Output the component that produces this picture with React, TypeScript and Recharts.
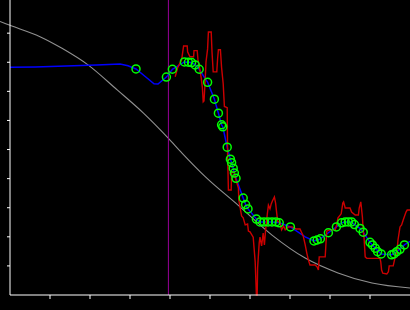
import { ComposedChart, Line, Scatter, XAxis, YAxis, ReferenceLine } from 'recharts';

// axis ticks (no labels in the reference)
const xTicks = [1, 2, 3, 4, 5, 6, 7, 8, 9];
const yTicks = [1, 2, 3, 4, 5, 6, 7, 8, 9];
const markerX = 3.96;

// gray reference curve
const grayX = [-0.25, 0, 0.75, 1.3, 1.95, 2.68, 3.33, 3.95, 4.3, 4.88, 5.7, 6.55, 7.38, 8.2, 9.05, 10];
const grayY = [9.4, 9.27, 8.88, 8.48, 7.91, 7.05, 6.26, 5.4, 4.88, 4.07, 3.09, 2.06, 1.27, 0.76, 0.41, 0.24];

// blue fitted line
const blueX = [
  0, 0.63, 1.4, 2.17, 2.75, 2.95, 3.15, 3.38, 3.6, 3.7, 3.91, 4.06, 4.36, 4.46, 4.54, 4.63, 4.73,
  4.94, 5.11, 5.21, 5.29, 5.32, 5.43, 5.51, 5.54, 5.58, 5.61, 5.65, 5.83, 5.89, 5.95,
  6.16, 6.25, 6.35, 6.55, 6.73, 7.01, 7.38, 7.6, 7.68, 7.76, 7.96,
  8.16, 8.29, 8.38, 8.54, 8.61, 8.75, 8.83, 9.0, 9.13, 9.28, 9.54, 9.67, 9.86, 10,
];
const blueY = [
  7.83, 7.84, 7.87, 7.91, 7.94, 7.88, 7.77, 7.51, 7.26, 7.25, 7.49, 7.76, 8.01, 8.0, 7.99, 7.91, 7.76,
  7.31, 6.73, 6.25, 5.85, 5.78, 5.08, 4.67, 4.55, 4.36, 4.19, 4.01, 3.33, 3.11, 2.96,
  2.61, 2.51, 2.51, 2.51, 2.48, 2.34, 2.0, 1.86, 1.89, 1.93, 2.14,
  2.34, 2.48, 2.51, 2.51, 2.42, 2.29, 2.16, 1.81, 1.61, 1.41, 1.38, 1.49, 1.72, 1.84,
];

// green sample markers
const ringX = [
  3.15, 3.91, 4.06, 4.36, 4.46, 4.54, 4.63, 4.73, 4.94, 5.11, 5.21, 5.29, 5.32, 5.43,
  5.51, 5.54, 5.58, 5.61, 5.65, 5.83, 5.89, 5.95, 6.16, 6.25, 6.35, 6.45, 6.55, 6.65, 6.73, 7.01,
  7.6, 7.68, 7.76, 7.96, 8.16, 8.29, 8.38, 8.46, 8.54, 8.61, 8.75, 8.83,
  9.0, 9.06, 9.13, 9.19, 9.28, 9.54, 9.6, 9.67, 9.75, 9.86,
];
const ringY = [
  7.77, 7.49, 7.76, 8.01, 8.0, 7.99, 7.91, 7.76, 7.31, 6.73, 6.25, 5.85, 5.78, 5.08,
  4.67, 4.55, 4.36, 4.19, 4.01, 3.33, 3.11, 2.96, 2.61, 2.51, 2.51, 2.51, 2.51, 2.51, 2.48, 2.34,
  1.86, 1.89, 1.93, 2.14, 2.34, 2.48, 2.51, 2.51, 2.51, 2.42, 2.29, 2.16,
  1.81, 1.72, 1.61, 1.49, 1.41, 1.38, 1.41, 1.49, 1.57, 1.72,
];

// red raw signal
const redX = [
  4.13, 4.19, 4.29, 4.34, 4.43, 4.44, 4.5, 4.59, 4.6, 4.68,
  4.7, 4.74, 4.78, 4.81, 4.83, 4.85, 4.88, 4.9, 4.94, 4.96,
  5.03, 5.05, 5.08, 5.17, 5.19, 5.21, 5.26, 5.29, 5.33, 5.36,
  5.43, 5.44, 5.46, 5.53, 5.54, 5.6, 5.65, 5.71, 5.72, 5.75,
  5.79, 5.83, 5.88, 5.94, 5.96, 6.0, 6.08, 6.13, 6.16, 6.18,
  6.19, 6.23, 6.25, 6.29, 6.33, 6.36, 6.39, 6.43, 6.46, 6.5,
  6.53, 6.56, 6.61, 6.64, 6.67, 6.69, 6.75, 6.79, 6.84, 6.88,
  6.96, 7.05, 7.15, 7.25, 7.33, 7.38, 7.42, 7.46, 7.5, 7.63,
  7.68, 7.71, 7.73, 7.88, 7.9, 7.92, 8.0, 8.13, 8.16, 8.2,
  8.28, 8.32, 8.34, 8.38, 8.5, 8.54, 8.63, 8.71, 8.73, 8.77,
  8.81, 8.83, 8.85, 8.88, 8.92, 9.25, 9.27, 9.29, 9.32, 9.42,
  9.46, 9.48, 9.58, 9.63, 9.67, 9.7, 9.75, 9.79, 9.83, 9.9,
  9.93, 10,
];
const redY = [
  7.5, 7.81, 8.08, 8.56, 8.56, 8.36, 8.19, 8.19, 8.4, 8.4,
  8.08, 7.81, 7.46, 7.12, 6.64, 6.67, 7.39, 8.01, 8.46, 9.04,
  9.04, 8.36, 7.67, 7.67, 8.12, 8.43, 8.43, 7.81, 7.26, 6.48,
  6.44, 4.81, 3.61, 3.61, 4.23, 4.23, 3.95, 3.68, 3.27, 3.03,
  2.72, 2.65, 2.41, 2.44, 2.2, 2.17, 1.99, 1.13, 0, 0,
  0.93, 1.79, 1.99, 1.69, 2.13, 1.72, 2.24, 2.75, 3.09, 2.96,
  3.13, 3.23, 3.37, 3.16, 2.79, 2.54, 2.48, 2.24, 2.37, 2.24,
  2.34, 2.34, 2.27, 2.27, 2.03, 1.72, 1.44, 1.2, 1.03, 1.03,
  0.96, 0.86, 1.31, 1.31, 1.79, 2.2, 2.24, 2.24, 2.37, 2.65,
  2.79, 3.16, 3.2, 2.99, 2.99, 2.85, 2.75, 2.75, 2.99, 3.2,
  2.68, 2.24, 1.99, 1.31, 1.26, 1.26, 1.13, 0.86, 0.75, 0.72,
  0.8, 1.0, 1.0, 1.31, 1.44, 1.89, 2.34, 2.41, 2.58, 2.85,
  2.92, 2.92,
];

const zip = (xs: number[], ys: number[]) => xs.map((x, i) => ({ x, y: ys[i] }));

const grayData = zip(grayX, grayY);
const blueData = zip(blueX, blueY);
const ringData = zip(ringX, ringY);
const redData = zip(redX, redY);

const W = 410;
const H = 310;
const Y_MAX = 10.14;
const noLabel = () => '';

function Ring({ cx, cy }: { cx?: number; cy?: number }) {
  if (cx == null || cy == null) return null;
  return <circle cx={cx} cy={cy} r={4} fill="none" stroke="#00ff00" strokeWidth={1.5} />;
}

export default function App() {
  const layer: React.CSSProperties = { position: 'absolute', left: 0, top: 0 };
  return (
    <div style={{ position: 'absolute', left: 0, top: 0, width: W, height: H, background: '#000', overflow: 'hidden' }}>
      {/* gray curve sits underneath and runs past the y axis on the left */}
      <div style={layer}>
        <ComposedChart width={W} height={H} margin={{ top: 0, right: 0, bottom: 15, left: 0 }}>
          <XAxis hide type="number" dataKey="x" domain={[-0.25, 10]} />
          <YAxis hide type="number" dataKey="y" domain={[0, Y_MAX]} />
          <Line
            data={grayData}
            dataKey="y"
            type="monotone"
            stroke="#909090"
            strokeWidth={1.1}
            dot={false}
            activeDot={false}
            isAnimationActive={false}
          />
        </ComposedChart>
      </div>
      <div style={layer}>
        <ComposedChart width={W} height={H} margin={{ top: 0, right: 0, bottom: 0, left: 0 }}>
          <XAxis
            type="number"
            dataKey="x"
            domain={[0, 10]}
            ticks={xTicks}
            tickFormatter={noLabel}
            tickSize={4}
            height={15}
            axisLine={{ stroke: '#fff' }}
            tickLine={{ stroke: '#fff' }}
          />
          <YAxis
            type="number"
            dataKey="y"
            domain={[0, Y_MAX]}
            ticks={yTicks}
            tickFormatter={noLabel}
            tickSize={3}
            width={10}
            axisLine={{ stroke: '#fff' }}
            tickLine={{ stroke: '#fff' }}
          />
          <ReferenceLine x={markerX} stroke="#990099" strokeWidth={1} />
          <Line
            data={blueData}
            dataKey="y"
            type="linear"
            stroke="#0000ff"
            strokeWidth={1.5}
            dot={false}
            activeDot={false}
            isAnimationActive={false}
          />
          <Line
            data={redData}
            dataKey="y"
            type="linear"
            stroke="#cc0000"
            strokeWidth={1.4}
            dot={false}
            activeDot={false}
            isAnimationActive={false}
          />
          <Scatter data={ringData} dataKey="y" shape={<Ring />} isAnimationActive={false} />
        </ComposedChart>
      </div>
    </div>
  );
}
